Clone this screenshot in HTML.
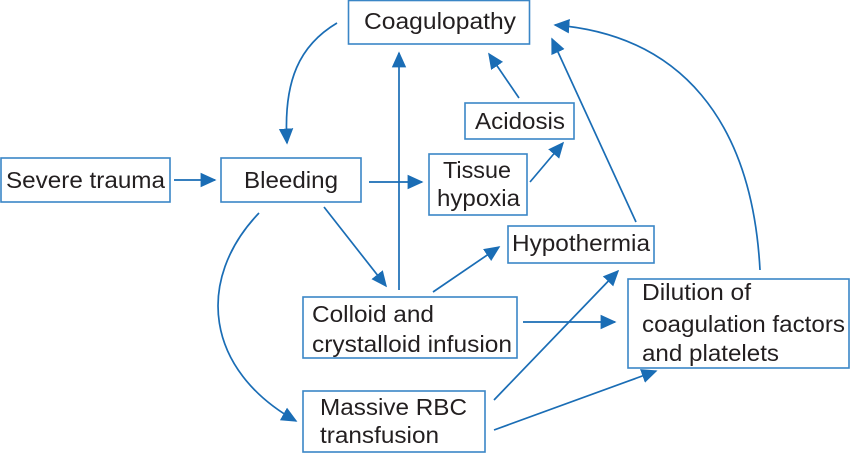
<!DOCTYPE html>
<html><head><meta charset="utf-8"><style>
html,body{margin:0;padding:0;background:#fff;}
svg{display:block;}
text{font-family:"Liberation Sans",Arial,sans-serif;font-size:23.5px;fill:#231f20;}
</style></head><body>
<svg width="850" height="453" viewBox="0 0 850 453" xmlns="http://www.w3.org/2000/svg">
<defs>
<marker id="a" viewBox="0 0 10 10" refX="9" refY="5" markerWidth="16" markerHeight="16" markerUnits="userSpaceOnUse" orient="auto">
<path d="M0,0.5 L10,5 L0,9.5 z" fill="#1a6db5"/>
</marker>
</defs>
<g fill="none" stroke="#3a86c6" stroke-width="1.6">
<rect x="348.5" y="0.5" width="181" height="43.5"/>
<rect x="1" y="158" width="169" height="44"/>
<rect x="221" y="158" width="140" height="44"/>
<rect x="465" y="103" width="109" height="36"/>
<rect x="429" y="154" width="98" height="61"/>
<rect x="508" y="226" width="146" height="37"/>
<rect x="303" y="297" width="214" height="61"/>
<rect x="628" y="279" width="221" height="89"/>
<rect x="303" y="391" width="182" height="61"/>
</g>
<g fill="none" stroke="#1a6db5" stroke-width="1.7" marker-end="url(#a)">
<line x1="174" y1="180" x2="215" y2="180"/>
<line x1="369" y1="182" x2="422" y2="182"/>
<line x1="399" y1="290" x2="399" y2="53"/>
<path d="M337,23 C300,45 283,80 287,143"/>
<line x1="530" y1="182" x2="563" y2="143"/>
<line x1="519" y1="98" x2="489" y2="54"/>
<line x1="636" y1="222" x2="552" y2="39"/>
<path d="M760,270 C752,120 680,35 555,25"/>
<line x1="324" y1="207" x2="386" y2="286"/>
<line x1="433" y1="292" x2="499" y2="247"/>
<line x1="523" y1="322" x2="615" y2="322"/>
<line x1="494" y1="400" x2="618" y2="271"/>
<line x1="494" y1="430" x2="656" y2="371"/>
<path d="M259,213 C195,280 205,370 296,421"/>
</g>
<text x="364" y="29" textLength="152" lengthAdjust="spacingAndGlyphs">Coagulopathy</text>
<text x="6" y="188" textLength="159" lengthAdjust="spacingAndGlyphs">Severe trauma</text>
<text x="244" y="188" textLength="94" lengthAdjust="spacingAndGlyphs">Bleeding</text>
<text x="475" y="129" textLength="90" lengthAdjust="spacingAndGlyphs">Acidosis</text>
<text x="443" y="178" textLength="68" lengthAdjust="spacingAndGlyphs">Tissue</text>
<text x="437" y="206" textLength="83" lengthAdjust="spacingAndGlyphs">hypoxia</text>
<text x="512" y="251" textLength="138" lengthAdjust="spacingAndGlyphs">Hypothermia</text>
<text x="312" y="322" textLength="122" lengthAdjust="spacingAndGlyphs">Colloid and</text>
<text x="312" y="352" textLength="200" lengthAdjust="spacingAndGlyphs">crystalloid infusion</text>
<text x="642" y="300" textLength="109" lengthAdjust="spacingAndGlyphs">Dilution of</text>
<text x="642" y="332" textLength="203" lengthAdjust="spacingAndGlyphs">coagulation factors</text>
<text x="642" y="361" textLength="137" lengthAdjust="spacingAndGlyphs">and platelets</text>
<text x="320" y="415" textLength="147" lengthAdjust="spacingAndGlyphs">Massive RBC</text>
<text x="320" y="443" textLength="119" lengthAdjust="spacingAndGlyphs">transfusion</text>
</svg>
</body></html>
